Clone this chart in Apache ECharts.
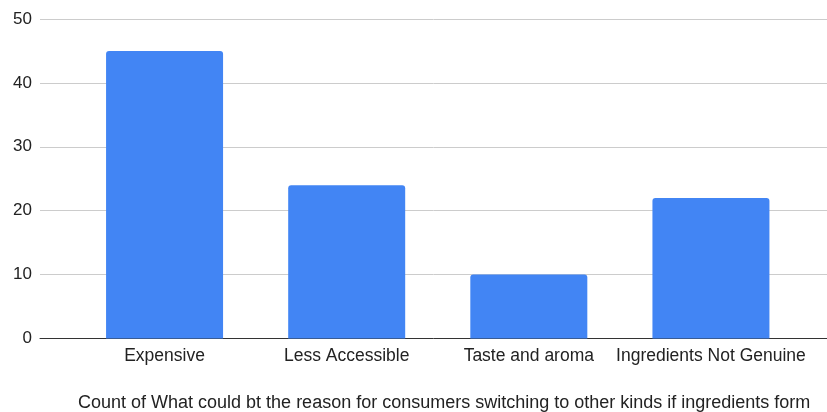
<!DOCTYPE html>
<html>
<head>
<meta charset="utf-8">
<script src="https://cdn.jsdelivr.net/npm/echarts@6/dist/echarts.min.js"></script>
<style>
html,body{margin:0;padding:0;background:#fff;}
#chart{width:827px;height:412px;}
</style>
</head>
<body>
<div id="chart"></div>
<script>
const categories = ['Expensive', 'Less Accessible', 'Taste and aroma', 'Ingredients Not Genuine'];
const counts = [45, 24, 10, 22];
const yTicks = [0, 10, 20, 30, 40, 50];
const axisTitle = 'Count of What could bt the reason for consumers switching to other kinds if ingredients form';

const FONT = '"Liberation Sans", Arial, sans-serif';
const chart = echarts.init(document.getElementById('chart'));
const yMin = yTicks[0], yMax = yTicks[yTicks.length - 1], yStep = yTicks[1] - yTicks[0];

chart.setOption({
  animation: false,
  backgroundColor: '#ffffff',
  grid: [
    { left: 40, right: 0, top: 19, bottom: 73.5 },
    { left: 73.5, right: 25, top: 19, bottom: 73.5 }
  ],
  xAxis: [
    {
      gridIndex: 0, type: 'value', min: 0, max: 1,
      axisLine: { show: true, onZero: false, lineStyle: { color: '#333333', width: 1 } },
      axisTick: { show: false }, axisLabel: { show: false }, splitLine: { show: false }
    },
    {
      gridIndex: 1, type: 'category', data: categories,
      axisLine: { show: false }, axisTick: { show: false },
      axisLabel: { color: '#222222', fontSize: 17.5, fontFamily: FONT, margin: 9, interval: 0 }
    }
  ],
  yAxis: [
    {
      gridIndex: 0, type: 'value', min: yMin, max: yMax, interval: yStep,
      axisLine: { show: false }, axisTick: { show: false },
      axisLabel: { color: '#222222', fontSize: 17, fontFamily: FONT, margin: 8 },
      splitLine: { show: true, lineStyle: { color: '#cccccc', width: 1 } }
    },
    {
      gridIndex: 1, type: 'value', min: yMin, max: yMax, interval: yStep,
      axisLine: { show: false }, axisTick: { show: false },
      axisLabel: { show: false }, splitLine: { show: false }
    }
  ],
  graphic: [{
    type: 'text',
    left: 78, top: 394,
    style: { text: axisTitle, fill: '#222222', font: '18px ' + FONT }
  }],
  series: [{
    type: 'bar',
    xAxisIndex: 1, yAxisIndex: 1,
    data: counts,
    barWidth: 117,
    itemStyle: { color: '#4285F4', borderRadius: [3, 3, 0, 0] }
  }]
});
</script>
</body>
</html>
